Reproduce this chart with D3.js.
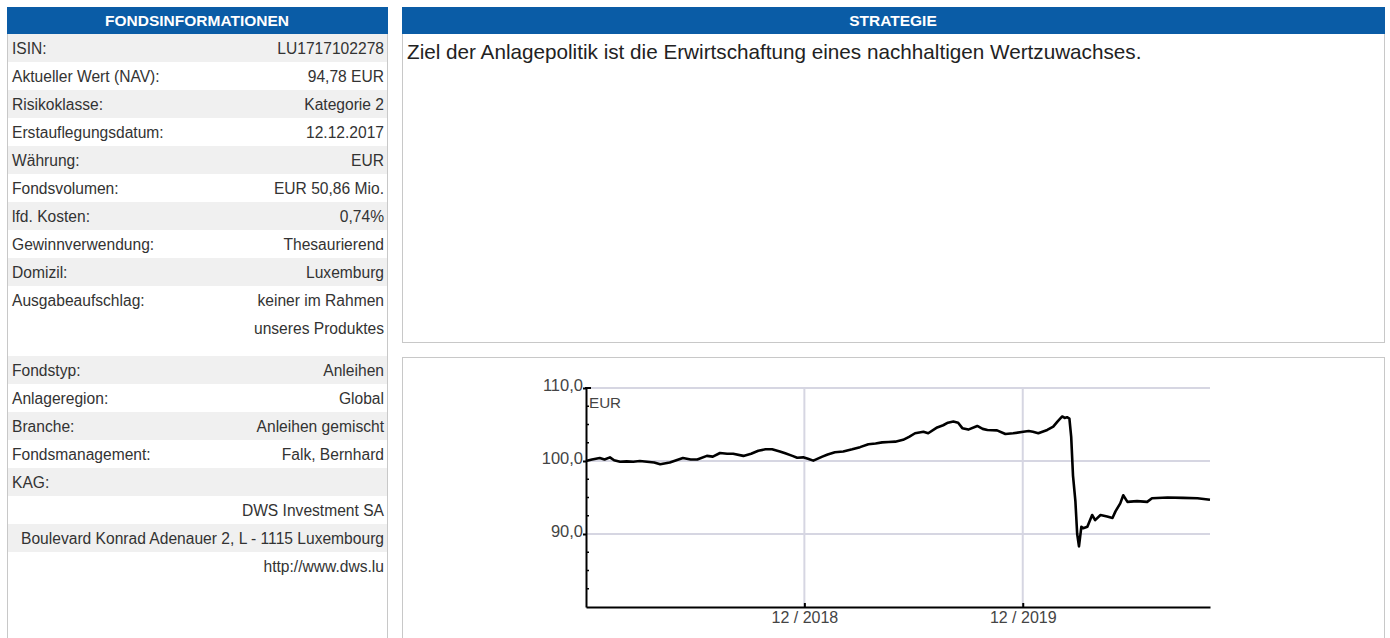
<!DOCTYPE html>
<html>
<head>
<meta charset="utf-8">
<script src="https://cdn.jsdelivr.net/npm/d3@7"></script>
<style>
body { margin: 0; background: #fff; }
svg text { font-family: "Liberation Sans", Arial, sans-serif; }
</style>
</head>
<body>
<div id="page"></div>
<script>
// fund info rows, first and second block
var infoLabels1 = ["ISIN:", "Aktueller Wert (NAV):", "Risikoklasse:", "Erstauflegungsdatum:", "Währung:",
    "Fondsvolumen:", "lfd. Kosten:", "Gewinnverwendung:", "Domizil:", "Ausgabeaufschlag:"]
var infoValues1 = ["LU1717102278", "94,78 EUR", "Kategorie 2", "12.12.2017", "EUR",
    "EUR 50,86 Mio.", "0,74%", "Thesaurierend", "Luxemburg", ["keiner im Rahmen", "unseres Produktes"]]
var infoLabels2 = ["Fondstyp:", "Anlageregion:", "Branche:", "Fondsmanagement:", "KAG:", "", "", ""]
var infoValues2 = ["Anleihen", "Global", "Anleihen gemischt", "Falk, Bernhard", "",
    "DWS Investment SA", "Boulevard Konrad Adenauer 2, L - 1115 Luxembourg", "http://www.dws.lu"]

var strategyText = "Ziel der Anlagepolitik ist die Erwirtschaftung eines nachhaltigen Wertzuwachses."

// NAV series
var navDates = ["2017-12-12", "2017-12-22", "2018-01-04", "2018-01-12", "2018-01-21", "2018-01-28", "2018-02-07",
    "2018-02-18", "2018-03-01", "2018-03-12", "2018-03-24", "2018-04-05", "2018-04-15", "2018-05-01",
    "2018-05-12", "2018-05-23", "2018-06-05", "2018-06-16", "2018-07-02", "2018-07-12", "2018-07-24",
    "2018-08-05", "2018-08-15", "2018-09-01", "2018-09-14", "2018-09-26", "2018-10-08", "2018-10-19",
    "2018-11-01", "2018-11-10", "2018-11-22", "2018-11-30", "2018-12-10", "2018-12-18", "2018-12-27",
    "2019-01-11", "2019-01-20", "2019-02-01", "2019-02-15", "2019-03-02", "2019-03-15", "2019-03-29",
    "2019-04-10", "2019-04-21", "2019-05-02", "2019-05-13", "2019-05-26", "2019-06-05", "2019-06-15",
    "2019-06-29", "2019-07-07", "2019-07-22", "2019-08-01", "2019-08-09", "2019-08-18", "2019-08-26",
    "2019-09-02", "2019-09-12", "2019-09-27", "2019-10-06", "2019-10-14", "2019-10-30", "2019-11-13",
    "2019-11-26", "2019-12-13", "2019-12-22", "2019-12-29", "2020-01-07", "2020-01-22", "2020-02-01",
    "2020-02-08", "2020-02-16", "2020-02-20", "2020-02-24", "2020-02-28", "2020-03-02", "2020-03-05",
    "2020-03-09", "2020-03-12", "2020-03-15", "2020-03-19", "2020-03-22", "2020-03-29", "2020-04-06",
    "2020-04-11", "2020-04-20", "2020-05-01", "2020-05-10", "2020-05-15", "2020-05-23", "2020-05-28",
    "2020-06-04", "2020-06-20", "2020-07-07", "2020-07-15", "2020-08-10", "2020-09-05", "2020-09-29",
    "2020-10-20"]
var navValues = [100.0, 100.2, 100.4, 100.2, 100.5, 100.1, 99.9,
    99.95, 99.9, 100.0, 99.9, 99.8, 99.55, 99.8,
    100.1, 100.4, 100.2, 100.2, 100.7, 100.6, 101.1,
    101.0, 101.0, 100.7, 101.0, 101.4, 101.6, 101.6,
    101.3, 101.05, 100.7, 100.45, 100.5, 100.3, 100.05,
    100.6, 100.9, 101.2, 101.3, 101.6, 101.9, 102.3,
    102.4, 102.55, 102.6, 102.65, 102.9, 103.3, 103.8,
    104.0, 103.8, 104.6, 104.9, 105.25, 105.4, 105.25,
    104.5, 104.3, 104.8, 104.4, 104.25, 104.2, 103.7,
    103.8, 104.0, 104.1, 104.0, 103.8, 104.25, 104.7,
    105.4, 106.1, 105.9, 106.0, 105.8, 103.3, 98.0,
    94.5, 90.0, 88.3, 91.0, 90.8, 91.0, 92.6,
    91.9, 92.6, 92.4, 92.2, 93.1, 94.2, 95.3,
    94.4, 94.5, 94.4, 94.9, 95.0, 94.95, 94.9,
    94.7]

var yTicks = [90, 100, 110]
var xTicks = ["2018-12-12", "2019-12-12"]

var blue = "#0a5ca6"
var border = "#c8c8c8"
var stripe = "#f0f0f0"
var textCol = "#333"

var svg = d3.select("#page").append("svg")
    .attr("width", 1390)
    .attr("height", 638)

function panel(x0, y0, w, h, title) {
    svg.append("rect")
        .attr("x", x0 + 0.5).attr("y", y0 + 0.5)
        .attr("width", w).attr("height", h)
        .attr("fill", "#fff").attr("stroke", border)
    if (title) {
        svg.append("rect")
            .attr("x", x0).attr("y", y0)
            .attr("width", w + 1).attr("height", 27)
            .attr("fill", blue)
        svg.append("text")
            .attr("x", x0 + w / 2).attr("y", y0 + 19)
            .attr("text-anchor", "middle")
            .attr("fill", "#fff")
            .attr("font-size", "15.5px")
            .attr("font-weight", "bold")
            .text(title)
    }
}

// left panel: fund information
panel(7, 7, 380, 660, "FONDSINFORMATIONEN")

var rowH = 28
function infoBlock(labels, values, top) {
    var yy = top
    labels.forEach(function (lab, i) {
        var val = values[i]
        var lines = Array.isArray(val) ? val : [val]
        var h = rowH * lines.length
        if (i % 2 === 0) {
            svg.append("rect")
                .attr("x", 8).attr("y", yy)
                .attr("width", 379).attr("height", h)
                .attr("fill", stripe)
        }
        svg.append("text")
            .attr("x", 12).attr("y", yy + 19.5)
            .attr("fill", textCol).attr("font-size", "15.6px")
            .text(lab)
        lines.forEach(function (ln, j) {
            svg.append("text")
                .attr("x", 384).attr("y", yy + 19.5 + j * rowH)
                .attr("text-anchor", "end")
                .attr("fill", textCol).attr("font-size", "15.6px")
                .text(ln)
        })
        yy += h
    })
    return yy
}
var endFirst = infoBlock(infoLabels1, infoValues1, 34)
infoBlock(infoLabels2, infoValues2, endFirst + 14)

// right top panel: strategy
panel(402, 7, 982, 335, "STRATEGIE")
svg.append("text")
    .attr("x", 407).attr("y", 59)
    .attr("fill", "#222").attr("font-size", "20.7px")
    .text(strategyText)

// right bottom panel: chart
panel(402, 357, 982, 320, null)

var parseTime = d3.timeParse("%Y-%m-%d")
var data = navDates.map(function (d, i) {
    return {date: parseTime(d), value: navValues[i]}
})

var x = d3.scaleTime()
    .domain([parseTime("2017-12-12"), parseTime("2020-10-20")])
    .range([586, 1210])
var y = d3.scaleLinear().domain([80, 110]).range([607, 388])

var de = d3.formatLocale({decimal: ",", thousands: ".", grouping: [3], currency: ["", " €"]})
var fmtY = de.format(".1f")

var grid = "#d6d6e2"
var g = svg.append("g")

// grid lines
g.selectAll(".hgrid").data(yTicks).enter().append("line")
    .attr("x1", 586).attr("x2", 1210)
    .attr("y1", function (d) { return y(d) }).attr("y2", function (d) { return y(d) })
    .attr("stroke", grid).attr("stroke-width", 2)
g.selectAll(".vgrid").data(xTicks.map(parseTime)).enter().append("line")
    .attr("x1", function (d) { return x(d) }).attr("x2", function (d) { return x(d) })
    .attr("y1", 388).attr("y2", 607)
    .attr("stroke", grid).attr("stroke-width", 2)

// the NAV line
var valueline = d3.line()
    .x(function (d) { return x(d.date) })
    .y(function (d) { return y(d.value) })
g.append("path")
    .datum(data)
    .attr("fill", "none")
    .attr("stroke", "#000")
    .attr("stroke-width", 2.6)
    .attr("stroke-linejoin", "round")
    .attr("d", valueline)

// y axis
var yAxis = g.append("g")
    .attr("transform", "translate(586,0)")
    .call(d3.axisLeft(y).tickValues(yTicks).tickFormat(fmtY).tickSize(3).tickSizeOuter(0))
yAxis.select(".domain").attr("stroke", "#000").attr("stroke-width", 2)
yAxis.selectAll(".tick line").attr("stroke", "#000").attr("stroke-width", 2)
yAxis.selectAll(".tick text")
    .attr("x", -3).attr("dy", "0.15em")
    .attr("fill", "#444").attr("font-size", "16.5px")
    .attr("font-family", "Liberation Sans, Arial, sans-serif")

// minor ticks on the y axis
var minor = d3.range(82.5, 110, 2.5).filter(function (v) { return v % 10 !== 0 })
g.selectAll(".minor").data(minor).enter().append("line")
    .attr("x1", 586).attr("x2", 589)
    .attr("y1", function (d) { return y(d) }).attr("y2", function (d) { return y(d) })
    .attr("stroke", "#000").attr("stroke-width", 1.5)
g.append("line")
    .attr("x1", 585).attr("x2", 591)
    .attr("y1", y(110)).attr("y2", y(110))
    .attr("stroke", "#000").attr("stroke-width", 2)

// x axis
var xAxis = g.append("g")
    .attr("transform", "translate(0,607)")
    .call(d3.axisTop(x).tickValues(xTicks.map(parseTime))
        .tickFormat(d3.timeFormat("%m / %Y")).tickSize(4).tickSizeOuter(0))
xAxis.select(".domain").attr("stroke", "#000").attr("stroke-width", 2)
xAxis.selectAll(".tick line").attr("stroke", "#000").attr("stroke-width", 2)
xAxis.selectAll(".tick text")
    .attr("y", 16).attr("dy", 0)
    .attr("fill", "#444").attr("font-size", "16px")
    .attr("font-family", "Liberation Sans, Arial, sans-serif")

svg.append("text")
    .attr("x", 589).attr("y", 408)
    .attr("fill", "#444").attr("font-size", "15.2px")
    .text("EUR")
</script>
</body>
</html>
